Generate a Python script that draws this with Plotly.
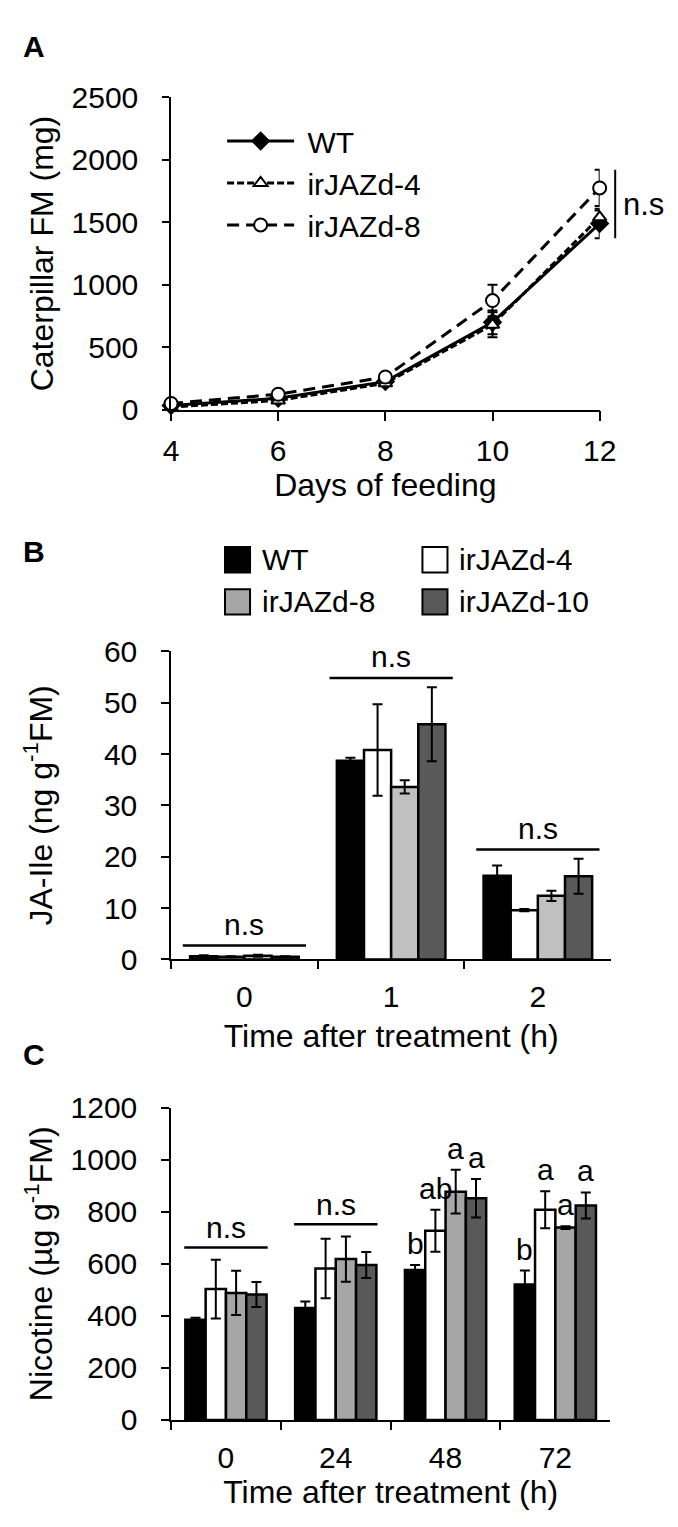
import plotly.graph_objects as go

# ---------------- data ----------------
days = [4, 6, 8, 10, 12]
fm_wt = [33, 92, 225, 700, 1490]
fm_wt_err = [10, 14, 25, 95, 118]
fm_jazd4 = [22, 74, 212, 680, 1540]
fm_jazd4_err = [8, 12, 22, 100, 55]
fm_jazd8 = [50, 124, 262, 874, 1775]
fm_jazd8_err = [10, 16, 25, 126, 145]
fm_sig = "n.s"

ja_times = ["0", "1", "2"]
ja_wt = [0.6, 38.7, 16.3]
ja_wt_err = [0.2, 0.6, 2.0]
ja_jazd4 = [0.5, 40.8, 9.6]
ja_jazd4_err = [0.1, 8.9, 0.2]
ja_jazd8 = [0.7, 33.6, 12.4]
ja_jazd8_err = [0.2, 1.3, 1.0]
ja_jazd10 = [0.5, 45.8, 16.2]
ja_jazd10_err = [0.1, 7.2, 3.4]
ja_sig = ["n.s", "n.s", "n.s"]

nic_times = ["0", "24", "48", "72"]
nic_wt = [385, 430, 576, 520]
nic_wt_err = [8, 25, 19, 54]
nic_jazd4 = [503, 582, 727, 808]
nic_jazd4_err = [113, 114, 81, 71]
nic_jazd8 = [488, 618, 877, 739]
nic_jazd8_err = [85, 87, 84, 5]
nic_jazd10 = [482, 595, 852, 824]
nic_jazd10_err = [48, 50, 74, 50]
nic_sig = ["n.s", "n.s", "", ""]
nic_letters_wt = ["", "", "b", "b"]
nic_letters_jazd4 = ["", "", "ab", "a"]
nic_letters_jazd8 = ["", "", "a", "a"]
nic_letters_jazd10 = ["", "", "a", "a"]

genotypes = ["WT", "irJAZd-4", "irJAZd-8", "irJAZd-10"]

# ---------------- style ----------------
W, H = 678, 1527
FONT = "Liberation Sans, Arial, Helvetica, sans-serif"
TICK_FS = 30
TITLE_FS = 32
colors_B = ["#000000", "#ffffff", "#c0c0c0", "#595959"]
colors_C = ["#000000", "#ffffff", "#a6a6a6", "#595959"]
legend_colors = ["#000000", "#ffffff", "#a6a6a6", "#595959"]
BARGAP = 0.26

A_X = (161, 606)
A_Y = (74, 393.5)
B_X = (161, 618)
B_Y = (640.7, 955.7)
C_X = (161, 617)
C_Y = (1107.3, 1426.7)
A_RANGE = (4, 12)


def fx(px):
    return px / W


def fy(py):
    return 1 - py / H


def a_paper_x(xv):
    f = (xv - A_RANGE[0]) / (A_RANGE[1] - A_RANGE[0])
    return fx(A_X[0]) + f * (fx(A_X[1]) - fx(A_X[0]))


fig = go.Figure()

# ---------------- Panel A ----------------
err_style = dict(type="data", color="black", thickness=2, width=5)
NB = "\u00a0"
fig.add_trace(go.Scatter(
    x=days, y=fm_wt, name=NB + "WT", mode="lines+markers",
    line=dict(color="black", width=3),
    marker=dict(symbol="diamond", size=15, color="black"),
    error_y=dict(array=fm_wt_err, **err_style),
    xaxis="x", yaxis="y", cliponaxis=False, legend="legend"))
fig.add_trace(go.Scatter(
    x=days, y=fm_jazd4, name=NB + "irJAZd-4", mode="lines+markers",
    line=dict(color="black", width=3, dash="7px,3px"),
    marker=dict(symbol="triangle-up", size=12, color="white",
                line=dict(color="black", width=2)),
    error_y=dict(array=fm_jazd4_err, **err_style),
    xaxis="x", yaxis="y", cliponaxis=False, legend="legend"))
fig.add_trace(go.Scatter(
    x=days, y=fm_jazd8, name=NB + "irJAZd-8", mode="lines+markers",
    line=dict(color="black", width=3, dash="12px,7px"),
    marker=dict(symbol="circle", size=13, color="white",
                line=dict(color="black", width=2)),
    error_y=dict(array=fm_jazd8_err, **err_style),
    xaxis="x", yaxis="y", cliponaxis=False, legend="legend"))

# ---------------- Panel B ----------------
ja_vals = [ja_wt, ja_jazd4, ja_jazd8, ja_jazd10]
ja_errs = [ja_wt_err, ja_jazd4_err, ja_jazd8_err, ja_jazd10_err]
for g, v, e, c in zip(genotypes, ja_vals, ja_errs, colors_B):
    fig.add_trace(go.Bar(
        x=ja_times, y=v, name=g, marker=dict(color=c, line=dict(color="black", width=2.5)),
        error_y=dict(array=e, **err_style), xaxis="x2", yaxis="y2", showlegend=False))

# ---------------- Panel C ----------------
nic_vals = [nic_wt, nic_jazd4, nic_jazd8, nic_jazd10]
nic_errs = [nic_wt_err, nic_jazd4_err, nic_jazd8_err, nic_jazd10_err]
for g, v, e, c in zip(genotypes, nic_vals, nic_errs, colors_C):
    fig.add_trace(go.Bar(
        x=nic_times, y=v, name=g, marker=dict(color=c, line=dict(color="black", width=2.5)),
        error_y=dict(array=e, **err_style), xaxis="x3", yaxis="y3", showlegend=False))

# ---------------- axes ----------------
axis_common = dict(showline=True, linecolor="black", linewidth=1.5, ticks="outside",
                   tickcolor="black", tickwidth=1.5, showgrid=False, zeroline=False,
                   tickfont=dict(size=TICK_FS, color="black", family=FONT))

shapes = []
annotations = []

fig.update_layout(
    xaxis=dict(domain=[fx(A_X[0]), fx(A_X[1])], range=list(A_RANGE), tickvals=days, ticklen=10,
               anchor="y", ticklabelstandoff=4,
               title=dict(text="Days of feeding", font=dict(size=TITLE_FS, color="black"), standoff=2),
               **axis_common),
    yaxis=dict(domain=[fy(A_Y[1]), fy(A_Y[0])], range=[0, 2500], dtick=500, ticklen=7,
               anchor="x", ticklabelstandoff=18,
               title=dict(text="Caterpillar FM (mg)", font=dict(size=TITLE_FS, color="black"), standoff=8),
               **axis_common),
    xaxis2=dict(domain=[fx(B_X[0]), fx(B_X[1])], type="category", categoryorder="array",
                categoryarray=ja_times, range=[-0.5, len(ja_times) - 0.5],
                tickson="boundaries", ticklen=8, anchor="y2", ticklabelstandoff=10,
                title=dict(text="Time after treatment (h)", font=dict(size=TITLE_FS, color="black"), standoff=12),
                **axis_common),
    yaxis2=dict(domain=[fy(B_Y[1]), fy(B_Y[0])], range=[0, 60], dtick=10, ticklen=8,
                anchor="x2", ticklabelstandoff=18,
                title=dict(text="JA-Ile (ng g<sup>-1</sup>FM)", font=dict(size=TITLE_FS, color="black"), standoff=42),
                **axis_common),
    xaxis3=dict(domain=[fx(C_X[0]), fx(C_X[1])], type="category", categoryorder="array",
                categoryarray=nic_times, range=[-0.5, len(nic_times) - 0.5],
                tickson="boundaries", ticklen=8, anchor="y3", ticklabelstandoff=10,
                title=dict(text="Time after treatment (h)", font=dict(size=TITLE_FS, color="black"), standoff=5),
                **axis_common),
    yaxis3=dict(domain=[fy(C_Y[1]), fy(C_Y[0])], range=[0, 1200], dtick=200, ticklen=8,
                anchor="x3", ticklabelstandoff=18,
                title=dict(text="Nicotine (µg g<sup>-1</sup>FM)", font=dict(size=TITLE_FS, color="black"), standoff=8),
                **axis_common),
)

# ---- Panel A significance bracket ----
a_series = [(fm_wt, fm_wt_err), (fm_jazd4, fm_jazd4_err), (fm_jazd8, fm_jazd8_err)]
lo12 = min(v[-1] - e[-1] for v, e in a_series)
hi12 = max(v[-1] + e[-1] for v, e in a_series)
brx = a_paper_x(days[-1] + 0.29)
shapes.append(dict(type="line", xref="paper", yref="y", x0=brx, x1=brx, y0=lo12, y1=hi12,
                   line=dict(color="black", width=2)))
annotations.append(dict(xref="paper", yref="y", x=brx, y=(lo12 + hi12) / 2, text=fm_sig,
                        xanchor="left", yanchor="middle", xshift=6, showarrow=False,
                        font=dict(size=31, color="black")))

# ---- bar significance lines ----
nb = len(genotypes)
bw = (1 - BARGAP) / nb
offsets = [-(1 - BARGAP) / 2 + bw * (k + 0.5) for k in range(nb)]

for i, lab in enumerate(ja_sig):
    top = max(v[i] + e[i] for v, e in zip(ja_vals, ja_errs))
    yl = top + 1.8
    shapes.append(dict(type="line", xref="x2", yref="y2", x0=i - 0.42, x1=i + 0.42, y0=yl, y1=yl,
                       line=dict(color="black", width=2.5)))
    annotations.append(dict(xref="x2", yref="y2", x=i, y=yl, text=lab, yanchor="bottom",
                            showarrow=False, yshift=3, font=dict(size=TICK_FS, color="black")))

for i, lab in enumerate(nic_sig):
    if not lab:
        continue
    top = max(v[i] + e[i] for v, e in zip(nic_vals, nic_errs))
    yl = top + 47
    shapes.append(dict(type="line", xref="x3", yref="y3", x0=i - 0.38, x1=i + 0.38, y0=yl, y1=yl,
                       line=dict(color="black", width=2.5)))
    annotations.append(dict(xref="x3", yref="y3", x=i, y=yl, text=lab, yanchor="bottom",
                            showarrow=False, yshift=1, font=dict(size=TICK_FS, color="black")))

nic_letters = [nic_letters_wt, nic_letters_jazd4, nic_letters_jazd8, nic_letters_jazd10]
for k, (v, e, letters) in enumerate(zip(nic_vals, nic_errs, nic_letters)):
    for i, lab in enumerate(letters):
        if lab:
            annotations.append(dict(xref="x3", yref="y3", x=i + offsets[k], y=v[i] + e[i], text=lab,
                                    yanchor="bottom", showarrow=False, yshift=3,
                                    font=dict(size=TICK_FS, color="black")))

# ---- Panel B legend (swatches + labels) ----
leg_cols = [217, 422]
leg_rows = [547, 590]
SW = 26
for k, (g, c) in enumerate(zip(genotypes, legend_colors)):
    col = k % 2
    row = k // 2
    x0 = leg_cols[col]
    yc = leg_rows[row]
    shapes.append(dict(type="rect", xref="paper", yref="paper",
                       x0=fx(x0), x1=fx(x0 + SW), y0=fy(yc + SW / 2), y1=fy(yc - SW / 2),
                       fillcolor=c, line=dict(color="black", width=2)))
    annotations.append(dict(xref="paper", yref="paper", x=fx(x0 + SW + 10), y=fy(yc), text=g,
                            xanchor="left", yanchor="middle", showarrow=False,
                            font=dict(size=TICK_FS, color="black")))

# ---- panel letters ----
for lab, yc in [("A", 22), ("B", 538), ("C", 1053)]:
    annotations.append(dict(xref="paper", yref="paper", x=fx(19), y=fy(yc), text="<b>%s</b>" % lab,
                            xanchor="center", yanchor="middle", showarrow=False,
                            font=dict(size=30, color="black")))

fig.update_layout(
    width=W, height=H,
    margin=dict(l=0, r=0, t=0, b=0),
    paper_bgcolor="white", plot_bgcolor="white",
    font=dict(family=FONT, color="black", size=TICK_FS),
    barmode="group", bargap=BARGAP, bargroupgap=0,
    shapes=shapes, annotations=annotations,
    legend=dict(x=fx(214), y=fy(92), xanchor="left", yanchor="top",
                font=dict(size=TICK_FS, color="black"), itemwidth=67,
                bgcolor="rgba(0,0,0,0)", borderwidth=0),
    showlegend=True,
)

fig.write_html("out.html")
